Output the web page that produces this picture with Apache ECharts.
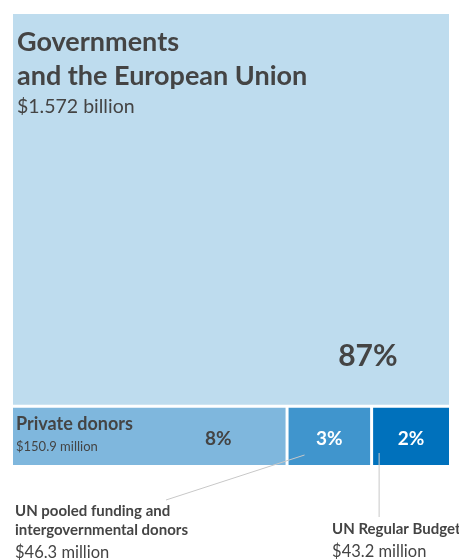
<!DOCTYPE html>
<html>
<head>
<meta charset="utf-8">
<script src="https://cdn.jsdelivr.net/npm/echarts@6/dist/echarts.min.js"></script>
<style>
html,body{margin:0;padding:0;background:#fff;}
#chart{width:459px;height:560px;}
</style>
</head>
<body>
<div id="chart"></div>
<script>
// ---- Data ----
const categories = [
  'Governments\nand the European Union',
  'Private donors',
  'UN pooled funding and\nintergovernmental donors',
  'UN Regular Budget'
];
const amountsMillions = [1572, 150.9, 46.3, 43.2];
const amountLabels = ['$1.572 billion', '$150.9 million', '$46.3 million', '$43.2 million'];
const shareLabels = ['87%', '8%', '3%', '2%'];

// ---- Styles ----
const palette = ['#bedcee', '#7fb7dd', '#4095cd', '#0071bc'];
const shareColors = ['#444444', '#444444', '#ffffff', '#ffffff'];
const FONT = 'Lato, "Noto Sans", sans-serif';
const TEXT = '#444444';

const chart = echarts.init(document.getElementById('chart'), null, {renderer: 'canvas'});

const nameLabels = [
  {
    show: true, position: 'insideTopLeft', padding: [11, 0, 0, 4], overflow: 'none',
    formatter: '{n|' + categories[0] + '}\n{v|' + amountLabels[0] + '}',
    rich: {
      n: {fontFamily: FONT, fontSize: 27, fontWeight: 'bold', lineHeight: 34, color: TEXT},
      v: {fontFamily: FONT, fontSize: 19.5, lineHeight: 28, color: TEXT}
    }
  },
  {
    show: true, position: 'insideTopLeft', padding: [5, 0, 0, 3], overflow: 'none',
    formatter: '{n|' + categories[1] + '}\n{v|' + amountLabels[1] + '}',
    rich: {
      n: {fontFamily: FONT, fontSize: 18, fontWeight: 'bold', lineHeight: 22, color: TEXT},
      v: {fontFamily: FONT, fontSize: 13, lineHeight: 24, color: TEXT}
    }
  },
  {show: false},
  {show: false}
];

const sharePositions = [['81.4%', '87.5%'], ['75.3%', '55%'], ['50%', '55%'], ['50%', '55%']];
const shareSizes = [30, 19, 19, 19];

const common = {
  type: 'treemap',
  left: 13, top: 14, width: 436, height: 451,
  roam: false, nodeClick: false,
  breadcrumb: {show: false},
  sort: 'desc',
  animation: false,
  silent: true,
  visibleMin: 0,
  childrenVisibleMin: 0
};

const option = {
  animation: false,
  series: [
    Object.assign({}, common, {
      levels: [
        {itemStyle: {gapWidth: 3, borderWidth: 0, borderColor: '#ffffff'}},
        {itemStyle: {borderWidth: 0, gapWidth: 0}}
      ],
      data: categories.map((c, i) => ({
        name: c,
        value: amountsMillions[i],
        itemStyle: {color: palette[i]},
        label: nameLabels[i]
      }))
    }),
    Object.assign({}, common, {
      levels: [
        {itemStyle: {gapWidth: 3, borderWidth: 0, borderColor: 'rgba(0,0,0,0)'}},
        {itemStyle: {borderWidth: 0, gapWidth: 0}}
      ],
      data: categories.map((c, i) => ({
        name: c,
        value: amountsMillions[i],
        itemStyle: {color: 'rgba(0,0,0,0)'},
        label: {
          show: true,
          position: sharePositions[i],
          align: 'center', verticalAlign: 'middle',
          padding: 0, overflow: 'none',
          formatter: shareLabels[i],
          fontFamily: FONT, fontSize: shareSizes[i], fontWeight: 'bold',
          color: shareColors[i]
        }
      }))
    })
  ]
};
chart.setOption(option);

// ---- Annotations for the two small blocks, anchored to the treemap's own layout ----
function nodeRect(idx) {
  const s = chart.getModel().getSeriesByIndex(0);
  const root = s.getData().tree.root;
  const node = root.children.find(n => n.name === categories[idx]);
  const l = node.getLayout();
  const li = s.layoutInfo || {x: 0, y: 0};
  return {x: li.x + l.x, y: li.y + l.y, w: l.width, h: l.height};
}
try {
  const big = nodeRect(0);
  const pooled = nodeRect(2);
  const reg = nodeRect(3);
  const pooledBottom = pooled.y + pooled.h;
  const regBottom = reg.y + reg.h;
  const pooledTextX = big.x + 2;
  const pooledTextY = pooledBottom + 37;
  const regTextX = reg.x - 41;
  const regTextY = regBottom + 55;
  const lineStyle = {stroke: '#c8c8c8', lineWidth: 1};
  const rich = {
    n: {fontFamily: FONT, fontSize: 15, fontWeight: 'bold', lineHeight: 19, fill: TEXT},
    v: {fontFamily: FONT, fontSize: 16.5, lineHeight: 25, fill: TEXT}
  };
  chart.setOption({
    graphic: [
      {type: 'line', silent: true, z: 100,
        shape: {x1: pooled.x + 16, y1: pooledBottom - 10, x2: pooledTextX + 151, y2: pooledTextY - 2},
        style: lineStyle},
      {type: 'line', silent: true, z: 100,
        shape: {x1: reg.x + 6, y1: regBottom - 12, x2: reg.x + 6, y2: regTextY - 3},
        style: lineStyle},
      {type: 'text', silent: true, z: 100, x: pooledTextX, y: pooledTextY,
        style: {text: '{n|' + categories[2] + '}\n{v|' + amountLabels[2] + '}', rich: rich,
          align: 'left', verticalAlign: 'top'}},
      {type: 'text', silent: true, z: 100, x: regTextX, y: regTextY,
        style: {text: '{n|' + categories[3] + '}\n{v|' + amountLabels[3] + '}', rich: rich,
          align: 'left', verticalAlign: 'top'}}
    ]
  });
} catch (e) {
  console.error(e);
}
</script>
</body>
</html>
